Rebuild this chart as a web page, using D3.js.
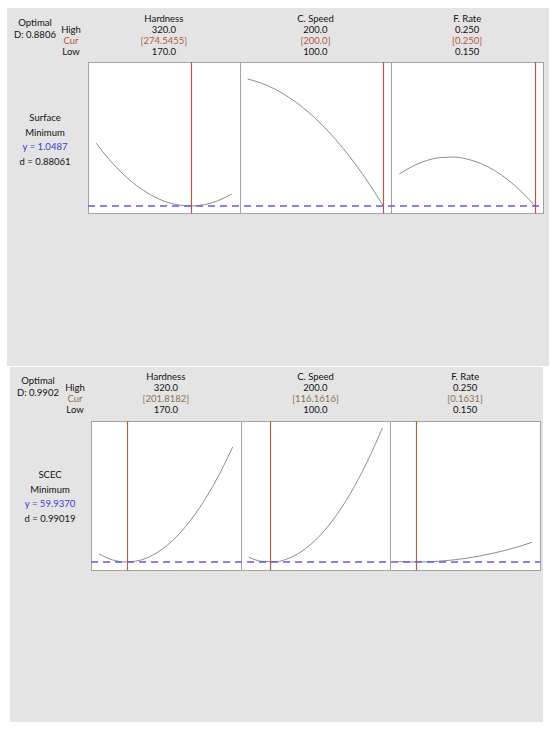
<!DOCTYPE html>
<html>
<head>
<meta charset="utf-8">
<script src="https://cdn.jsdelivr.net/npm/d3@7"></script>
<style>
  body { margin: 0; background: #fff; }
  svg text { font-family: Lato, "Noto Sans", sans-serif; font-size: 9.5px; fill: #111; }
</style>
</head>
<body>
<div id="chart"></div>
<script>
// factor settings
const factorNames = ['Hardness', 'C. Speed', 'F. Rate'];
const factorLow = [170, 100, 0.15];
const factorHigh = [320, 200, 0.25];
const highLabels = ['320.0', '200.0', '0.250'];
const lowLabels = ['170.0', '100.0', '0.150'];
const hardnessGrid = [170, 185, 200, 215, 230, 245, 260, 275, 290, 305, 320];
const speedGrid = [100, 110, 120, 130, 140, 150, 160, 170, 180, 190, 200];
const rateGrid = [0.15, 0.16, 0.17, 0.18, 0.19, 0.20, 0.21, 0.22, 0.23, 0.24, 0.25];

// surface roughness response
const surfaceCur = [274.5455, 200.0, 0.250];
const surfaceCurLabels = ['[274.5455]', '[200.0]', '[0.250]'];
const surfaceHardness = [2.016, 1.757, 1.539, 1.361, 1.223, 1.124, 1.067, 1.049, 1.069, 1.131, 1.232];
const surfaceSpeed = [3.000, 2.937, 2.845, 2.723, 2.573, 2.393, 2.183, 1.943, 1.674, 1.376, 1.049];
const surfaceRate = [1.540, 1.662, 1.746, 1.792, 1.800, 1.769, 1.702, 1.596, 1.451, 1.268, 1.049];
const surfaceYRange = [0.941, 3.261];

// SCEC response
const scecCur = [201.8182, 116.1616, 0.1631];
const scecCurLabels = ['[201.8182]', '[116.1616]', '[0.1631]'];
const scecHardness = [69.68, 62.59, 59.95, 61.79, 68.10, 78.89, 94.15, 113.88, 138.10, 166.78, 199.95];
const scecSpeed = [65.91, 60.78, 60.30, 64.44, 73.23, 86.64, 104.69, 127.37, 154.67, 186.61, 223.16];
const scecRate = [60.45, 59.96, 60.10, 60.87, 62.27, 64.30, 66.95, 70.24, 74.15, 78.69, 83.87];
const scecYRange = [50.19, 231.67];

class OptimizerPanel {

  constructor(data, config) {
    this.data = data;
    this.config = config;
  }

  draw(svg) {
    const c = this.config;
    const d = this.data;
    const g = svg.append('g');

    g.append('rect')
        .attr('x', c.bg[0]).attr('y', c.bg[1])
        .attr('width', c.bg[2]).attr('height', c.bg[3])
        .attr('fill', '#e4e4e4');

    const text = (x, y, str, color) => g.append('text')
        .attr('x', x).attr('y', y)
        .attr('text-anchor', 'middle')
        .style('fill', color || '#111')
        .text(str);

    text(c.optX, c.rows[0] + 4, 'Optimal');
    text(c.optX, c.rows[0] + 16, d.optimalD);
    text(c.hclX, c.rows[1], 'High');
    text(c.hclX, c.rows[2], 'Cur', c.curColor);
    text(c.hclX, c.rows[3], 'Low');

    d.respLabels.forEach((s, i) =>
      text(c.respX, c.respY + i * 14.7, s, i === 2 ? '#3a3ad2' : '#111'));

    const y = d3.scaleLinear().domain(d.yRange).range([c.bottom, c.top]);
    const line = d3.line().curve(d3.curveMonotoneX);
    const right = c.left + 3 * c.boxW;
    const lineXs = [];

    factorNames.forEach((name, i) => {
      const x0 = c.left + i * c.boxW;
      const x = d3.scaleLinear()
          .domain([factorLow[i], factorHigh[i]])
          .range([x0 + 8, x0 + c.boxW - 8]);
      const mid = x0 + c.boxW / 2;

      text(mid, c.rows[0], name);
      text(mid, c.rows[1], highLabels[i]);
      text(mid, c.rows[2], d.curLabels[i], c.curColor);
      text(mid, c.rows[3], lowLabels[i]);

      g.append('rect')
          .attr('x', Math.round(x0) + 0.5).attr('y', c.top + 0.5)
          .attr('width', Math.round(c.boxW)).attr('height', c.bottom - c.top)
          .attr('fill', '#fff')
          .attr('stroke', '#a2a2a2');

      const pts = d.grids[i].map((v, k) => [x(v), y(d.curves[i][k])]);
      g.append('path')
          .attr('d', line(pts))
          .attr('fill', 'none')
          .attr('stroke', '#8c8c8c')
          .attr('stroke-width', 1);

      lineXs.push(Math.round(x(d.cur[i])) + 0.5);
    });

    g.append('line')
        .attr('x1', c.left).attr('x2', right)
        .attr('y1', y(d.yValue)).attr('y2', y(d.yValue))
        .attr('stroke', '#5c5ce6')
        .attr('stroke-width', 1.3)
        .attr('stroke-dasharray', '7,5');

    lineXs.forEach((lx) => {
      g.append('line')
          .attr('x1', lx).attr('x2', lx)
          .attr('y1', c.top).attr('y2', c.bottom + 0.5)
          .attr('stroke', c.lineColor)
          .attr('stroke-width', 1.2);
    });
  }

}

const svg = d3.select('#chart')
    .append('svg')
    .attr('width', 550)
    .attr('height', 729);

new OptimizerPanel({
  optimalD: 'D: 0.8806',
  respLabels: ['Surface', 'Minimum', 'y = 1.0487', 'd = 0.88061'],
  cur: surfaceCur,
  curLabels: surfaceCurLabels,
  grids: [hardnessGrid, speedGrid, rateGrid],
  curves: [surfaceHardness, surfaceSpeed, surfaceRate],
  yRange: surfaceYRange,
  yValue: 1.0487
}, {
  bg: [7, 8, 542, 358],
  left: 88, boxW: 151.67, top: 62, bottom: 213,
  rows: [22, 33, 44, 55],
  optX: 35, hclX: 71, respX: 45, respY: 121,
  curColor: '#b4563e', lineColor: '#b5583f'
}).draw(svg);

new OptimizerPanel({
  optimalD: 'D: 0.9902',
  respLabels: ['SCEC', 'Minimum', 'y = 59.9370', 'd = 0.99019'],
  cur: scecCur,
  curLabels: scecCurLabels,
  grids: [hardnessGrid, speedGrid, rateGrid],
  curves: [scecHardness, scecSpeed, scecRate],
  yRange: scecYRange,
  yValue: 59.937
}, {
  bg: [10, 367, 533, 355],
  left: 91, boxW: 149.67, top: 421, bottom: 570,
  rows: [380, 391, 402, 413],
  optX: 38, hclX: 75, respX: 50, respY: 478,
  curColor: '#8e7250', lineColor: '#a2654a'
}).draw(svg);
</script>
</body>
</html>
